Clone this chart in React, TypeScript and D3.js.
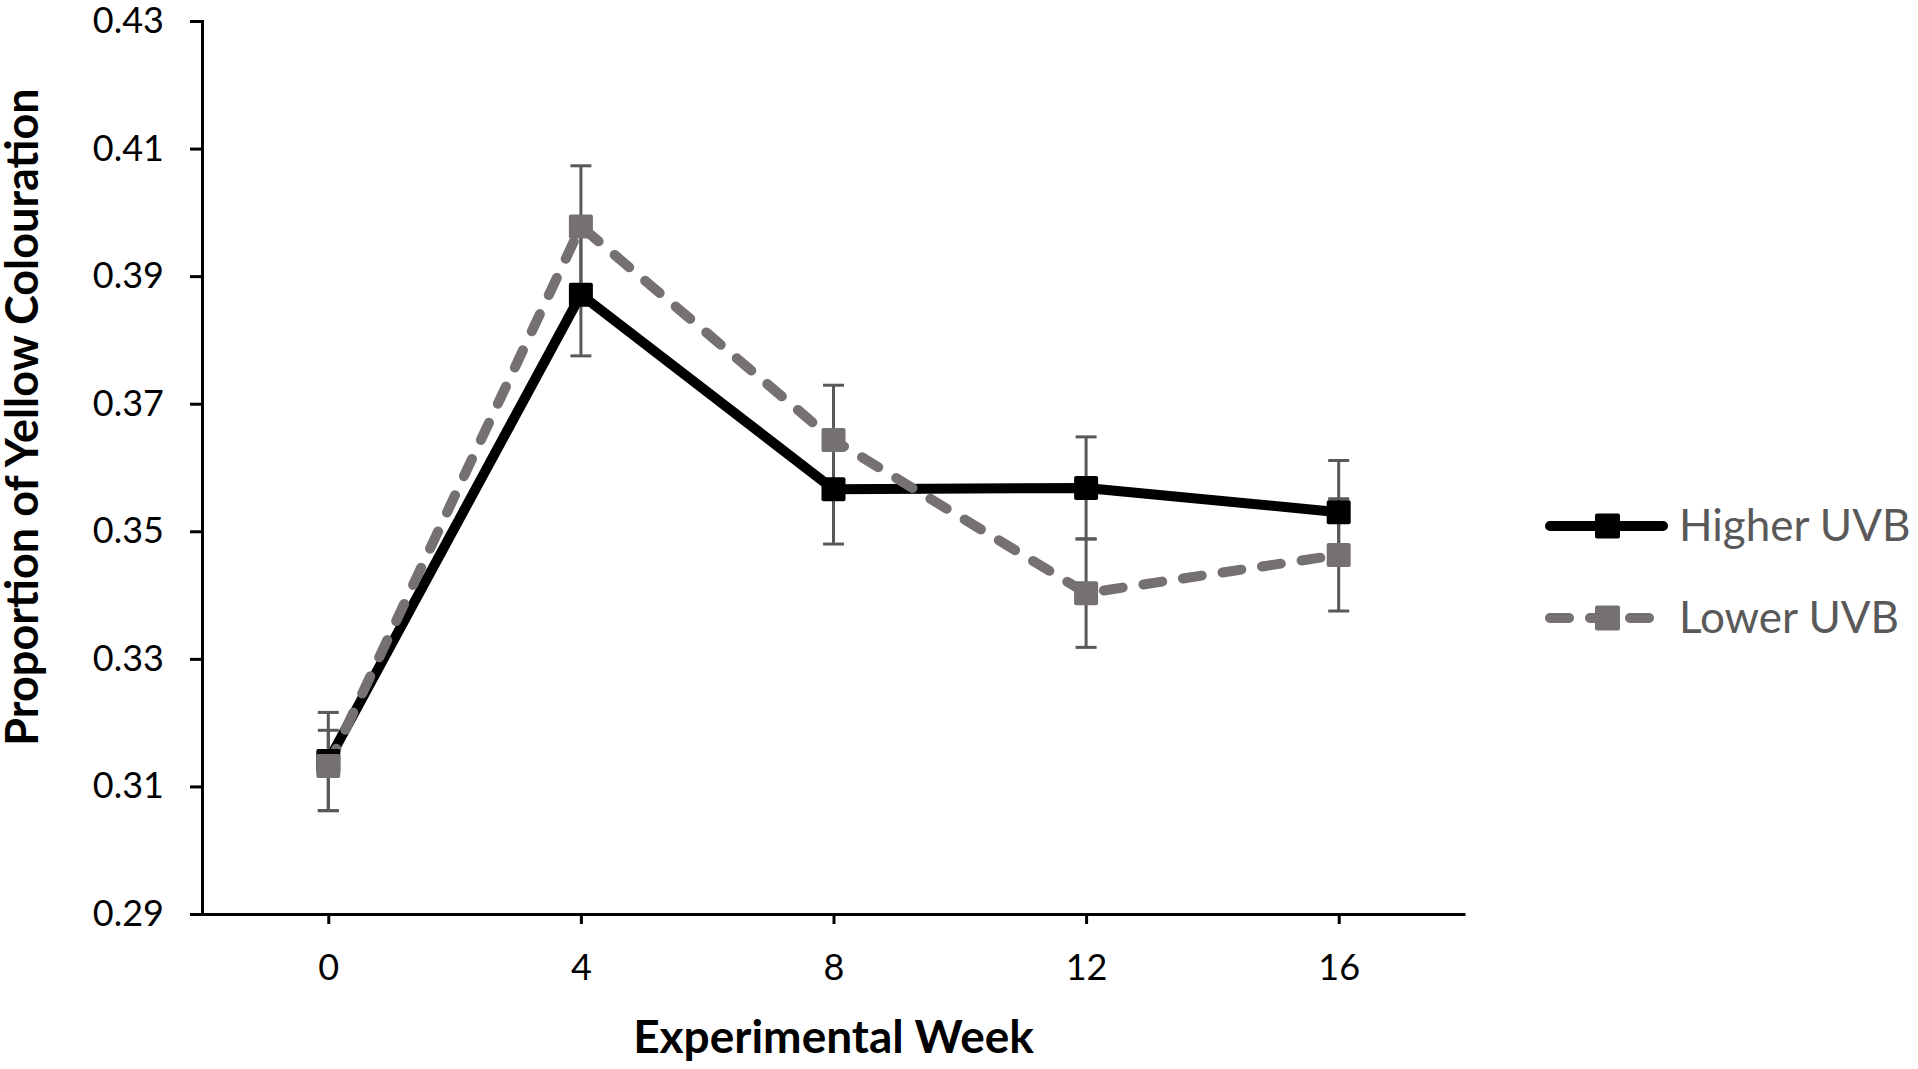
import * as d3 from 'd3';
import { useEffect, useRef } from 'react';

const weeks = [0, 4, 8, 12, 16];
const higherUVB = [0.314, 0.3871, 0.3566, 0.3568, 0.353];
const higherErrPlus = [0.0076, 0.0096, 0.0086, 0.008, 0.0081];
const higherErrMinus = [0.0078, 0.0096, 0.0086, 0.008, 0.0081];
const lowerUVB = [0.3132, 0.3978, 0.3643, 0.3403, 0.3463];
const lowerErrPlus = [0.0056, 0.0095, 0.0086, 0.0085, 0.0088];
const lowerErrMinus = [0.007, 0.0095, 0.0086, 0.0085, 0.0088];
const yTicks = [0.29, 0.31, 0.33, 0.35, 0.37, 0.39, 0.41, 0.43];
const seriesNames = ['Higher UVB', 'Lower UVB'];

const FONT = 'Lato, "Open Sans", sans-serif';

export default function App() {
  const ref = useRef<SVGSVGElement | null>(null);

  useEffect(() => {
    const width = 1918;
    const height = 1069;
    const svg = d3.select(ref.current);
    svg.selectAll('*').remove();
    svg.attr('viewBox', `0 0 ${width} ${height}`);

    const x = d3.scaleLinear().domain([-2, 18]).range([202, 1465]);
    const y = d3.scaleLinear().domain([0.29, 0.43]).range([914, 21]);

    const series = [
      { name: seriesNames[0], values: higherUVB, plus: higherErrPlus, minus: higherErrMinus, color: '#000000', dash: null },
      { name: seriesNames[1], values: lowerUVB, plus: lowerErrPlus, minus: lowerErrMinus, color: '#767171', dash: '19,21' },
    ];

    // axes
    const yAxis = svg
      .append('g')
      .attr('transform', `translate(${x(-2)},0)`)
      .call(d3.axisLeft(y).tickValues(yTicks).tickSize(12).tickPadding(26).tickFormat(d3.format('.2f')));
    yAxis.select('.domain').attr('stroke', '#000').attr('stroke-width', 3);
    yAxis.selectAll('.tick line').attr('stroke', '#000').attr('stroke-width', 3);
    yAxis.selectAll('.tick text').attr('font-family', FONT).attr('font-size', 36).attr('fill', '#000');

    const xAxis = svg
      .append('g')
      .attr('transform', `translate(0,${y(0.29)})`)
      .call(d3.axisBottom(x).tickValues(weeks).tickSize(10).tickPadding(30).tickSizeOuter(0).tickFormat(d3.format('d')));
    xAxis.select('.domain').attr('stroke', '#000').attr('stroke-width', 3);
    xAxis.selectAll('.tick line').attr('stroke', '#000').attr('stroke-width', 3);
    xAxis.selectAll('.tick text').attr('font-family', FONT).attr('font-size', 36).attr('fill', '#000');

    // titles
    svg
      .append('text')
      .attr('transform', `translate(38,417) rotate(-90)`)
      .attr('text-anchor', 'middle')
      .attr('font-family', FONT)
      .attr('font-weight', 'bold')
      .attr('font-size', 45)
      .attr('fill', '#000')
      .text('Proportion of Yellow Colouration');

    svg
      .append('text')
      .attr('x', x(8))
      .attr('y', 1053)
      .attr('text-anchor', 'middle')
      .attr('font-family', FONT)
      .attr('font-weight', 'bold')
      .attr('font-size', 46)
      .attr('fill', '#000')
      .text('Experimental Week');

    const line = d3
      .line<number>()
      .x((_, i) => x(weeks[i]))
      .y((d) => y(d));

    // lines
    series.forEach((s) => {
      svg
        .append('path')
        .attr('d', line(s.values))
        .attr('fill', 'none')
        .attr('stroke', s.color)
        .attr('stroke-width', 10)
        .attr('stroke-linejoin', 'round')
        .attr('stroke-linecap', 'round')
        .attr('stroke-dasharray', s.dash);
    });

    // error bars
    const capHalf = 10.5;
    series.forEach((s) => {
      const g = svg.append('g').attr('stroke', '#595959').attr('stroke-width', 3);
      s.values.forEach((v, i) => {
        const cx = x(weeks[i]);
        const top = y(v + s.plus[i]);
        const bot = y(v - s.minus[i]);
        g.append('line').attr('x1', cx).attr('x2', cx).attr('y1', top).attr('y2', bot);
        g.append('line').attr('x1', cx - capHalf).attr('x2', cx + capHalf).attr('y1', top).attr('y2', top);
        g.append('line').attr('x1', cx - capHalf).attr('x2', cx + capHalf).attr('y1', bot).attr('y2', bot);
      });
    });

    // markers
    const m = 24;
    series.forEach((s) => {
      svg
        .append('g')
        .selectAll('rect')
        .data(s.values)
        .enter()
        .append('rect')
        .attr('x', (_, i) => x(weeks[i]) - m / 2)
        .attr('y', (d) => y(d) - m / 2)
        .attr('width', m)
        .attr('height', m)
        .attr('rx', 2)
        .attr('fill', s.color);
    });

    // legend
    const legendY = [526, 618];
    series.forEach((s, i) => {
      const g = svg.append('g').attr('transform', `translate(0,${legendY[i]})`);
      g.append('line')
        .attr('x1', 1550)
        .attr('x2', s.dash ? 1650 : 1663)
        .attr('y1', 0)
        .attr('y2', 0)
        .attr('stroke', s.color)
        .attr('stroke-width', 10)
        .attr('stroke-linecap', 'round')
        .attr('stroke-dasharray', s.dash);
      g.append('rect')
        .attr('x', 1607 - m / 2)
        .attr('y', -m / 2 - 0.5)
        .attr('width', m + 1)
        .attr('height', m + 1)
        .attr('rx', 2)
        .attr('fill', s.color);
      g.append('text')
        .attr('x', 1679)
        .attr('y', 15)
        .attr('font-family', FONT)
        .attr('font-size', 44)
        .attr('fill', '#595959')
        .text(s.name);
    });
  }, []);

  return (
    <svg
      ref={ref}
      width={1918}
      height={1069}
      style={{ position: 'absolute', left: 0, top: 0, background: '#fff' }}
      role="img"
      aria-label="Proportion of yellow colouration by experimental week"
    />
  );
}
